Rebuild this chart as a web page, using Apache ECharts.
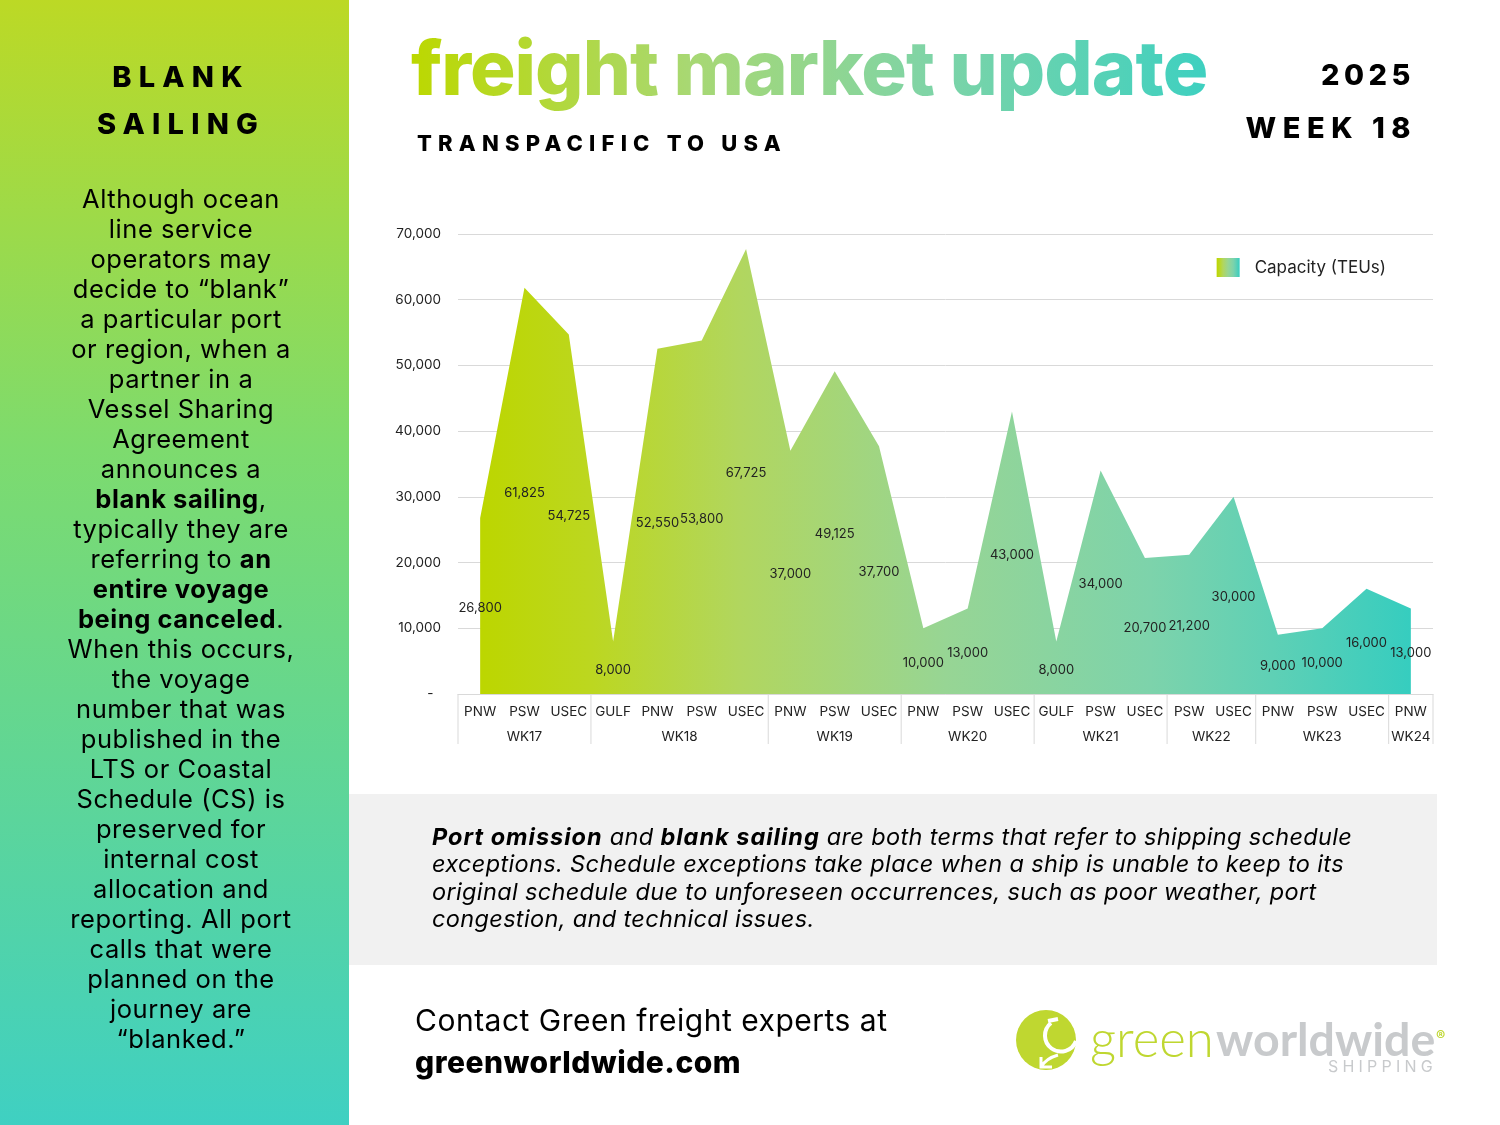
<!DOCTYPE html>
<html>
<head>
<meta charset="utf-8">
<script src="https://cdn.jsdelivr.net/npm/echarts@6/dist/echarts.min.js"></script>
<style>
html, body { margin: 0; padding: 0; background: #fff; }
#page { position: relative; width: 1500px; height: 1125px; overflow: hidden; font-family: Inter, sans-serif; color: #000; }
#page div { position: absolute; white-space: nowrap; }
#side { left: 0; top: 0; width: 349px; height: 1125px; background: linear-gradient(180deg, #bcd925 0%, #7ddb6e 40%, #3fd0c2 100%); }
#grey { left: 349px; top: 794px; width: 1088px; height: 171px; background: #f1f1f1; }
#chart { left: 0; top: 0; width: 1500px; height: 1125px; }
.head { font-weight: 800; font-size: 29px; letter-spacing: 7.2px; }
#sideHead { left: 0; width: 362px; top: 53px; text-align: center; line-height: 47px; }
#sideText { left: 0; width: 362px; top: 184px; text-align: center; font-size: 25.5px; line-height: 30px; letter-spacing: 0.55px; }
#title { left: 411px; top: 23px; font-size: 76px; line-height: 88px; font-weight: 800; letter-spacing: -1px;
  background: linear-gradient(90deg, #bcd800 0%, #a8d873 35%, #7fd4a6 65%, #3ed0c0 100%); -webkit-background-clip: text; background-clip: text; color: transparent; }
#sub { left: 417px; top: 129px; font-size: 22px; line-height: 28px; font-weight: 800; letter-spacing: 6.2px; }
#year { right: 85px; top: 58px; font-size: 29px; line-height: 34px; font-weight: 800; letter-spacing: 4.5px; }
#week { right: 83px; top: 111px; font-size: 29px; line-height: 34px; font-weight: 800; letter-spacing: 6.5px; }
#note { left: 432px; top: 823px; font-size: 23.5px; line-height: 27.3px; font-style: italic; letter-spacing: 0.35px; }
#note b { letter-spacing: 1px; }
#contact { left: 415px; top: 999px; font-size: 30px; line-height: 42px; letter-spacing: 0.5px; }
#logoGreen { left: 1090px; top: 1008px; font-size: 51px; line-height: 60px; color: #bfd730; font-weight: 300; font-family: Lato, sans-serif; }
#logoWorld { left: 1216px; top: 1008px; font-size: 46.5px; line-height: 60px; color: #c8cacc; font-weight: 700; font-family: Lato, sans-serif; }
#logoShip { left: 1328px; top: 1056px; font-size: 16px; line-height: 20px; color: #c8cacc; letter-spacing: 4.2px; }
#logoMark { left: 1014px; top: 1008px; width: 66px; height: 66px; }
#logoReg { left: 1436px; top: 1028px; font-size: 14px; line-height: 16px; color: #bfd730; font-weight: 700; }
</style>
</head>
<body>
<div id="page">
  <div id="side"></div>
  <div id="grey"></div>
  <div id="chart"></div>
  <div id="sideHead" class="head">BLANK<br>SAILING</div>
  <div id="sideText"></div>
  <div id="title">freight market update</div>
  <div id="sub">TRANSPACIFIC TO USA</div>
  <div id="year">2025</div>
  <div id="week">WEEK 18</div>
  <div id="note"></div>
  <div id="contact">Contact Green freight experts at<br><b style="font-weight:800">greenworldwide.com</b></div>
  <div id="logoMark"><svg width="66" height="66" viewBox="0 0 66 66">
    <circle cx="32" cy="32" r="30" fill="#bfd730"/>
    <path d="M34 13 L44 11 M37 15 A16 16 0 1 0 62 33" fill="none" stroke="#fff" stroke-width="4"/>
    <path d="M27 49 L27 59 L38 59 M27 59 C31 52 37 49 44 47" fill="none" stroke="#fff" stroke-width="3"/>
  </svg></div>
  <div id="logoGreen">green</div>
  <div id="logoWorld">worldwide</div>
  <div id="logoReg">®</div>
  <div id="logoShip">SHIPPING</div>
</div>
<script>
// Chart data
var ports = ["PNW", "PSW", "USEC", "GULF", "PNW", "PSW", "USEC", "PNW", "PSW", "USEC", "PNW", "PSW", "USEC",
	"GULF", "PSW", "USEC", "PSW", "USEC", "PNW", "PSW", "USEC", "PNW"];
var capacity = [26800, 61825, 54725, 8000, 52550, 53800, 67725, 37000, 49125, 37700, 10000, 13000, 43000,
	8000, 34000, 20700, 21200, 30000, 9000, 10000, 16000, 13000];
var weeks = ["WK17", "WK18", "WK19", "WK20", "WK21", "WK22", "WK23", "WK24"];
var weekSpans = [3, 4, 3, 3, 3, 2, 3, 1];

// Page text
var sideLines = ["Although ocean", "line service", "operators may", "decide to “blank”", "a particular port",
	"or region, when a", "partner in a", "Vessel Sharing", "Agreement", "announces a", "<b>blank sailing</b>,",
	"typically they are", "referring to <b>an</b>", "<b>entire voyage</b>", "<b>being canceled</b>.", "When this occurs,",
	"the voyage", "number that was", "published in the", "LTS or Coastal", "Schedule (CS) is", "preserved for",
	"internal cost", "allocation and", "reporting. All port", "calls that were", "planned on the", "journey are", "“blanked.”"];
var noteLines = ["<b>Port omission</b> and <b>blank sailing</b> are both terms that refer to shipping schedule",
	"exceptions. Schedule exceptions take place when a ship is unable to keep to its",
	"original schedule due to unforeseen occurrences, such as poor weather, port",
	"congestion, and technical issues."];

document.getElementById("sideText").innerHTML = sideLines.join("<br>");
document.getElementById("note").innerHTML = noteLines.join("<br>");

// Week rows: start and end index on the category axis
var weekRows = [];
var start = 0;
weekSpans.forEach(function (span) {
	weekRows.push([start, start + span - 1, 0]);
	start += span;
});

var fill = new echarts.graphic.LinearGradient(0, 0, 1, 0, [
	{ offset: 0, color: "#bcd600" },
	{ offset: 0.12, color: "#bcd720" },
	{ offset: 0.28, color: "#b1d65f" },
	{ offset: 0.5, color: "#97d594" },
	{ offset: 0.72, color: "#7dd3ab" },
	{ offset: 0.85, color: "#5fd0b5" },
	{ offset: 1, color: "#36cdbf" }
]);

function renderWeek(params, api) {
	var a = api.coord([api.value(0), 0]);
	var b = api.coord([api.value(1), 0]);
	var band = api.size([1, 0])[0];
	var left = a[0] - band / 2;
	var right = b[0] + band / 2;
	var line = { stroke: "#d9d9d9", lineWidth: 1 };
	var children = [
		{ type: "line", shape: { x1: right, y1: a[1], x2: right, y2: a[1] + 50 }, style: line },
		{ type: "text", x: (left + right) / 2, y: a[1] + 43,
			style: { text: weeks[params.dataIndex], align: "center", verticalAlign: "middle",
				fontFamily: "Inter", fontSize: 13.5, fill: "#222" } }
	];
	if (params.dataIndex === 0) {
		children.push({ type: "line", shape: { x1: left, y1: a[1], x2: left, y2: a[1] + 50 }, style: line });
	}
	return { type: "group", children: children };
}

var chart = echarts.init(document.getElementById("chart"), null, { renderer: "canvas" });
chart.setOption({
	animation: false,
	textStyle: { fontFamily: "Inter" },
	grid: { left: 458, top: 234, width: 975, height: 460, containLabel: false },
	legend: {
		right: 109, top: 253, itemWidth: 23, itemHeight: 19, selectedMode: false,
		textStyle: { fontSize: 17, color: "#222", fontFamily: "Inter", padding: [0, 0, 0, 10] },
		data: [{ name: "Capacity (TEUs)", icon: "rect", itemStyle: { color: fill } }]
	},
	xAxis: {
		type: "category",
		data: ports,
		axisTick: { show: false },
		axisLine: { lineStyle: { color: "#d9d9d9" } },
		axisLabel: { interval: 0, margin: 11, fontSize: 13.5, color: "#222", fontFamily: "Inter" }
	},
	yAxis: {
		type: "value",
		min: 0,
		max: 70000,
		interval: 10000,
		axisLine: { show: false },
		axisTick: { show: false },
		splitLine: { lineStyle: { color: "#d9d9d9" } },
		axisLabel: {
			margin: 17, fontSize: 13.5, color: "#222", fontFamily: "Inter", padding: [4, 0, 0, 0],
			formatter: function (v) { return v === 0 ? "-  " : v.toLocaleString("en-US"); }
		}
	},
	series: [
		{
			name: "Capacity (TEUs)", type: "line", data: capacity, symbol: "none",
			lineStyle: { width: 0 }, itemStyle: { color: fill }, areaStyle: { color: fill, opacity: 1 }
		},
		{
			// invisible bars only carry the labels at half height
			name: "labels", type: "bar", data: capacity, barWidth: "60%", silent: true, z: 5,
			itemStyle: { color: "transparent" },
			label: {
				show: true, position: "inside", offset: [0, 2], fontSize: 13, color: "#222", fontFamily: "Inter",
				formatter: function (p) { return p.value.toLocaleString("en-US"); }
			}
		},
		{
			name: "weeks", type: "custom", data: weekRows, renderItem: renderWeek, silent: true,
			encode: { x: [0, 1], y: 2 }, clip: false
		}
	]
});
</script>
</body>
</html>
